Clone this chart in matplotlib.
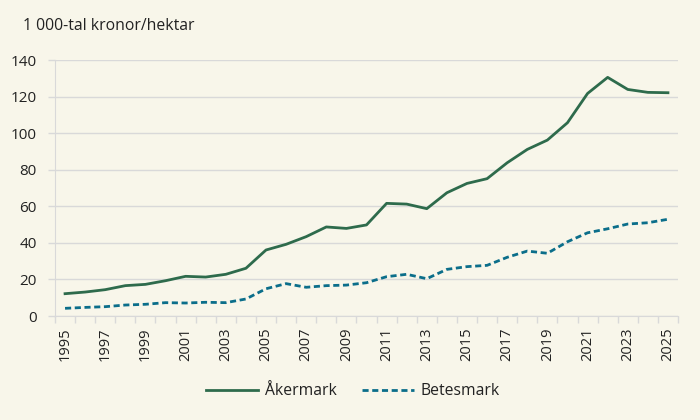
import numpy as np
import matplotlib
matplotlib.use("Agg")
import matplotlib.pyplot as plt

plt.rcParams['font.family'] = ['Open Sans', 'DejaVu Sans']

years = list(range(1995, 2026))
akermark = [12.2, 13.1, 14.4, 16.6, 17.3, 19.3, 21.7, 21.3, 22.8, 26.1,
            36.1, 39.2, 43.4, 48.7, 47.9, 49.8, 61.6, 61.2, 58.7, 67.4,
            72.5, 75.1, 83.8, 91.1, 96.2, 105.7, 121.7, 130.5, 123.9, 122.3, 122.1]
betesmark = [4.2, 4.7, 5.1, 6.0, 6.4, 7.3, 7.1, 7.5, 7.3, 9.3,
             14.9, 17.7, 15.7, 16.6, 16.9, 18.2, 21.5, 22.8, 20.4, 25.5,
             27.0, 27.7, 32.1, 35.5, 34.3, 40.6, 45.5, 47.7, 50.3, 51.0, 52.9]

bg = "#f8f6ea"
grid_col = "#d9d9d9"
text_col = "#222222"

fig = plt.figure(figsize=(7, 4.2), dpi=100, facecolor=bg)
ax = fig.add_axes([55 / 700, 1 - 316 / 420, 623 / 700, 256 / 420])
ax.set_facecolor(bg)

x = np.arange(len(years))
ax.plot(x, akermark, color="#2e6b4c", lw=2, label="Åkermark", zorder=3)
ax.plot(x, betesmark, color="#0b6e8a", lw=2, ls=(0, (2.2, 1.3)), label="Betesmark", zorder=3)

ax.set_xlim(-0.5, len(years) - 0.5)
ax.set_ylim(0, 140)
ax.set_yticks(range(0, 141, 20))
ax.yaxis.grid(True, color=grid_col, lw=1)
ax.set_axisbelow(True)

# ticks between the year categories, labels on every other year
ax.set_xticks(np.arange(-0.5, len(years), 1), minor=True)
ax.set_xticks(x[::2])
ax.set_xticklabels([str(y) for y in years[::2]], rotation=90)
ax.tick_params(axis="x", which="major", length=0, pad=8, labelsize=10.5, colors=text_col)
ax.tick_params(axis="x", which="minor", length=5, color=grid_col, width=1)
ax.tick_params(axis="y", length=5, color=grid_col, width=1, labelsize=11, colors=text_col, pad=8)

for s in ["top", "right"]:
    ax.spines[s].set_visible(False)
ax.spines["left"].set_color(grid_col)
ax.spines["bottom"].set_color(grid_col)

fig.text(23 / 700, 1 - 26 / 420, "1 000-tal kronor/hektar", fontsize=11.3, color=text_col, va="center")

fig.legend(loc="center", bbox_to_anchor=(353 / 700, 1 - 391 / 420), ncol=2, frameon=False,
           fontsize=11.3, handlelength=3.3, handletextpad=0.45, columnspacing=1.6,
           labelcolor=text_col)

fig.savefig("out.png", dpi=100, facecolor=bg)
